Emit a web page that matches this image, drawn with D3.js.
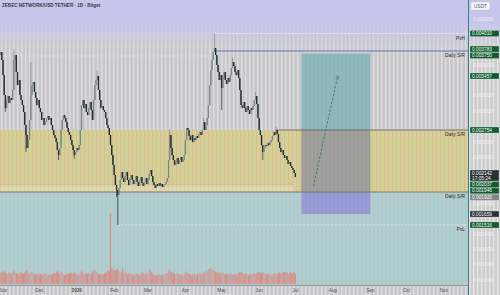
<!DOCTYPE html>
<html><head><meta charset="utf-8">
<script src="https://cdn.jsdelivr.net/npm/d3@7"></script>
<style>html,body{margin:0;padding:0;background:#c9c9ec;overflow:hidden}svg{display:block}</style>
</head><body><svg id="c" width="500" height="295"></svg>
<script>
const title = "ZEBEC NETWORK/USD TETHER · 1D · Bitget";
const firstDay = new Date(2025, 9, 29);
const closes = [
0.003731,0.003770,0.003666,0.003470,0.003210,0.003040,0.003145,0.003197,0.003105,0.003171,
0.003145,0.003275,0.003666,0.003731,0.003509,0.003340,0.003405,0.003210,0.003145,0.003079,
0.002988,0.002819,0.002689,0.002519,0.002623,0.002884,0.003210,0.003340,0.003379,0.003249,
0.003171,0.003079,0.003145,0.003040,0.002988,0.002884,0.002910,0.002819,0.002858,0.002910,
0.002936,0.002884,0.002910,0.002819,0.002754,0.002689,0.002650,0.002597,0.002493,0.002428,
0.002519,0.002754,0.002884,0.002949,0.002910,0.002858,0.002780,0.002728,0.002689,0.002623,
0.002558,0.002493,0.002428,0.002467,0.002519,0.002493,0.002558,0.002754,0.003079,0.003145,
0.003040,0.003092,0.002988,0.002949,0.003040,0.003118,0.003014,0.002884,0.003145,0.003340,
0.003405,0.003457,0.003275,0.003145,0.003040,0.003066,0.003014,0.002988,0.002910,0.002819,
0.002780,0.002689,0.002558,0.002428,0.002298,0.002167,0.002037,0.001972,0.001907,0.001998,
0.002102,0.002206,0.002128,0.002076,0.002154,0.002206,0.002102,0.002037,0.002128,0.002167,
0.002102,0.002050,0.002102,0.002154,0.002076,0.002024,0.002102,0.002141,0.002063,0.002024,
0.002076,0.002128,0.002050,0.002102,0.002180,0.002233,0.002154,0.002076,0.002037,0.001998,
0.002050,0.002024,0.002063,0.002024,0.002050,0.002011,0.002037,0.002050,0.002076,0.002128,
0.002363,0.002689,0.002519,0.002428,0.002363,0.002298,0.002337,0.002389,0.002311,0.002363,
0.002402,0.002337,0.002363,0.002428,0.002623,0.002780,0.002754,0.002676,0.002623,0.002689,
0.002597,0.002650,0.002623,0.002676,0.002650,0.002702,0.002728,0.002689,0.002754,0.002858,
0.002754,0.002819,0.002910,0.003079,0.003340,0.003535,0.003666,0.003770,0.003822,0.003731,
0.003601,0.003509,0.003405,0.003470,0.003301,0.003431,0.003509,0.003405,0.003353,0.003431,
0.003379,0.003470,0.003562,0.003640,0.003588,0.003509,0.003470,0.003535,0.003431,0.003275,
0.003079,0.003040,0.003118,0.003040,0.002988,0.003066,0.003014,0.002962,0.003040,0.003014,
0.003066,0.003145,0.003197,0.003092,0.002910,0.002754,0.002689,0.002558,0.002467,0.002519,
0.002558,0.002545,0.002584,0.002558,0.002597,0.002623,0.002676,0.002728,0.002689,0.002754,
0.002702,0.002597,0.002519,0.002467,0.002493,0.002428,0.002389,0.002415,0.002363,0.002311,
0.002337,0.002285,0.002259,0.002233,0.002193,0.002142];
const firstOpen = 0.003700;
const highWicks = [[0,0.003800],[12,0.003800],[26,0.003640],[81,0.003530],[141,0.002760],[169,0.002910],[178,0.004010],[193,0.003700],[212,0.003250],[229,0.002800]];
const lowWicks = [[5,0.002990],[22,0.002470],[49,0.002363],[62,0.002380],[97,0.001880],[98,0.001516],[184,0.003014],[218,0.002363]];
const volumes = [
14,16,15,18,17,15,14,13,16,15, 14,17,19,16,15,14,13,15,16,14,
15,16,18,20,15,14,17,16,13,12, 14,13,15,12,14,13,12,15,14,13,
12,13,14,12,13,15,14,16,18,15, 14,17,16,13,12,14,13,15,14,16,
15,14,16,15,13,14,12,16,19,17, 14,13,15,14,16,15,14,18,17,20,
18,15,14,13,14,12,13,15,16,17, 18,19,97,22,20,19,18,20,21,18,
18,16,22,15,14,16,13,14,15,13, 14,12,13,15,14,13,12,14,16,15,
14,13,15,12,18,20,16,14,13,12, 13,12,14,13,12,13,12,14,13,15,
18,21,17,16,15,14,13,15,14,13, 14,13,12,14,16,18,15,14,13,12,
13,14,12,13,14,13,15,14,13,17, 15,16,18,20,21,22,20,19,18,17,
16,15,17,14,15,16,14,13,15,14, 13,14,15,13,12,14,13,12,15,16,
17,15,14,13,15,14,13,12,14,13, 14,15,13,14,16,17,15,14,16,15,
14,13,15,14,13,12,14,13,15,14, 13,15,16,14,15,16,17,15,16,14,
15,16,14,15,17,14];
const priceTicks = [0.0042,0.0040,0.0038,0.0036,0.0034,0.0032,0.0030,0.0028,0.0026,0.0024,0.0022,0.0020,0.0018,0.0016,0.0014,0.0012,0.0010,0.0008];
const monthTicks = [new Date(2025,10,1),new Date(2025,11,1),new Date(2026,0,1),new Date(2026,1,1),new Date(2026,2,1),new Date(2026,3,1),new Date(2026,4,1),new Date(2026,5,1),new Date(2026,6,1),new Date(2026,7,1),new Date(2026,8,1),new Date(2026,9,1),new Date(2026,10,1)];
const monthLabels = ["Nov","Dec","2026","Feb","Mar","Apr","May","Jun","Jul","Aug","Sep","Oct","Nov"];
const pvhLevel = 0.004010, pvhFrom = new Date(2026,3,25);
const resistLevel = 0.003783, resistFrom = new Date(2026,3,25);
const midLevel = 0.002754, midFrom = new Date(2026,5,15);
const supportLevel = 0.001946;
const pvlLevel = 0.001516, pvlFrom = new Date(2026,1,4);
const oldHighLevel = 0.003718, oldHighTo = new Date(2026,3,25);
const bandTop = 0.002037, bandBottom = 0.001946, bandTo = new Date(2026,5,30);
const posFrom = new Date(2026,6,6), posTo = new Date(2026,8,1);
const posTarget = 0.003750, posEntry = 0.001946, posStop = 0.001659;
const arrowFrom = [new Date(2026,6,16), 0.002024], arrowTo = [new Date(2026,7,5), 0.003457];
const entryMark = 0.001920;
const countdown = "17:05:24";

const svg = d3.select("#c");
const W = 500, H = 295, axisX = 468, timeY = 285;
const x = d3.scaleTime().domain([new Date(2025,10,1), new Date(2026,10,1)]).range([3, 444]);
const y = d3.scaleLinear().domain([0.0008, 0.0042]).range([280, 19]);
const yv = d3.scaleLinear().domain([0, 100]).range([284, 211]);
const fmt = d3.format(".6f");
const FONT = "Liberation Sans, Arial, sans-serif";

const defs = svg.append("defs");
function stripes(id, base, list) {
  const p = defs.append("pattern").attr("id", id).attr("patternUnits","userSpaceOnUse").attr("width",4).attr("height",10);
  p.append("rect").attr("width",4).attr("height",10).attr("fill",base);
  list.forEach(s => p.append("rect").attr("x",s[0]).attr("width",s[1]).attr("height",10).attr("fill",s[2]));
}
stripes("pGray", "#c8c8cb", [[1,1.5,"#dcdcdf"]]);
stripes("pYel", "#d7d08e", [[0,0.8,"#e4b09c"],[2,1,"#c2d89c"]]);
stripes("pCyan", "#c4c7c8", [[1,1.8,"#99d2d6"]]);
stripes("pAxis", "#cdcdcd", [[1,1.5,"#e2e2e2"]]);
stripes("pTeal", "#9fb3b3", [[1,2,"#7dbcbc"]]);
stripes("pBoxMid", "#a3a19b", [[1,1.5,"#999a98"]]);
stripes("pPurp", "#9c9cd2", [[1,1.5,"#8e94d6"]]);
const grad = defs.append("linearGradient").attr("id","gTop").attr("x1",0).attr("y1",0).attr("x2",0).attr("y2",1);
grad.append("stop").attr("offset","0%").attr("stop-color","#c6c6ec");
grad.append("stop").attr("offset","100%").attr("stop-color","#c6c6ec").attr("stop-opacity",0);
defs.append("clipPath").attr("id","plot").append("rect").attr("width",axisX).attr("height",timeY);

// backgrounds
svg.append("rect").attr("width",W).attr("height",H).attr("fill","url(#pGray)");
svg.append("rect").attr("x",axisX).attr("width",W-axisX).attr("height",H).attr("fill","url(#pAxis)");
svg.append("rect").attr("width",W).attr("height",22).attr("fill","#c6c6ec");
svg.append("rect").attr("y",22).attr("width",W).attr("height",26).attr("fill","url(#gTop)");
const yMid = y(midLevel), ySup = y(supportLevel);
svg.append("rect").attr("x",0).attr("y",yMid).attr("width",axisX).attr("height",ySup-yMid).attr("fill","url(#pYel)");
svg.append("rect").attr("x",0).attr("y",ySup).attr("width",axisX).attr("height",timeY-ySup).attr("fill","url(#pCyan)");

const g = svg.append("g").attr("clip-path","url(#plot)");

// thin band
g.append("rect").attr("x",0).attr("y",y(bandTop)).attr("width",x(bandTo)).attr("height",y(bandBottom)-y(bandTop))
  .attr("fill","rgba(255,255,255,0.22)").attr("stroke","rgba(190,140,140,0.7)").attr("stroke-width",0.6).attr("stroke-dasharray","1.5,1");

// position box
const px0 = x(posFrom), pw = x(posTo) - x(posFrom);
g.append("rect").attr("x",px0).attr("y",y(posTarget)).attr("width",pw).attr("height",y(midLevel)-y(posTarget)).attr("fill","url(#pTeal)");
g.append("rect").attr("x",px0).attr("y",y(midLevel)).attr("width",pw).attr("height",y(posEntry)-y(midLevel)).attr("fill","url(#pBoxMid)");
g.append("rect").attr("x",px0).attr("y",y(posEntry)).attr("width",pw).attr("height",y(posStop)-y(posEntry)).attr("fill","url(#pPurp)");

// levels
function hline(v, x0, x1, color, w, dash) {
  g.append("line").attr("x1",x0).attr("x2",x1).attr("y1",y(v)).attr("y2",y(v))
   .attr("stroke",color).attr("stroke-width",w).attr("stroke-dasharray",dash||null);
}
hline(oldHighLevel, 0, x(oldHighTo), "#ececf6", 0.7, "1,1.5");
hline(pvhLevel, x(pvhFrom), axisX, "#efeff8", 0.8, "2,1.5");
hline(resistLevel, x(resistFrom), axisX, "#5a66b8", 0.9);
hline(midLevel, x(midFrom), axisX, "#585858", 0.8);
hline(supportLevel, 0, axisX, "#6b6a5c", 0.8);
hline(pvlLevel, x(pvlFrom), axisX, "#ececec", 0.8, "2,1.5");

const days = closes.map((c,i) => {
  const d = d3.timeDay.offset(firstDay, i);
  const o = i === 0 ? firstOpen : closes[i-1];
  let h = Math.max(o,c), l = Math.min(o,c);
  highWicks.forEach(w => { if (w[0]===i) h = Math.max(h, w[1]); });
  lowWicks.forEach(w => { if (w[0]===i) l = Math.min(l, w[1]); });
  return {d, o, c, h, l, v: volumes[i]};
});
// volume
g.selectAll(".vol").data(days).join("rect")
  .attr("x", d => x(d.d)-0.55).attr("width",1.1)
  .attr("y", d => yv(d.v)).attr("height", d => yv(0)-yv(d.v))
  .attr("fill", d => d.c >= d.o ? "#cf9a98" : "#d98780").attr("opacity",0.9);

// candles
g.selectAll(".wick").data(days).join("line")
  .attr("x1", d => x(d.d)).attr("x2", d => x(d.d))
  .attr("y1", d => y(d.h)).attr("y2", d => y(d.l))
  .attr("stroke", d => d.c >= d.o ? "#7d8587" : "#1f2b33").attr("stroke-width",0.7);
g.selectAll(".body").data(days).join("rect")
  .attr("x", d => x(d.d)-0.65).attr("width",1.3)
  .attr("y", d => y(Math.max(d.o,d.c)))
  .attr("height", d => Math.max(0.9, Math.abs(y(d.o)-y(d.c))))
  .attr("fill", d => d.c >= d.o ? "#7d8587" : "#1f2b33");

// arrow
const ax0 = x(arrowFrom[0]), ay0 = y(arrowFrom[1]), ax1 = x(arrowTo[0]), ay1 = y(arrowTo[1]);
g.append("line").attr("x1",ax0).attr("y1",ay0).attr("x2",ax1).attr("y2",ay1)
  .attr("stroke","#2f6e6e").attr("stroke-width",0.8).attr("stroke-dasharray","2.5,1.5");
const ang = Math.atan2(ay1-ay0, ax1-ax0);
const ah = 3;
g.append("path").attr("d", `M${ax1+Math.cos(ang+2.6)*ah},${ay1+Math.sin(ang+2.6)*ah}L${ax1},${ay1}L${ax1+Math.cos(ang-2.6)*ah},${ay1+Math.sin(ang-2.6)*ah}`)
  .attr("fill","none").attr("stroke","#2f6e6e").attr("stroke-width",0.8);

// level texts
const lvlText = [[pvhLevel,"PvH"],[resistLevel,"Daily S/R"],[midLevel,"Daily S/R"],[supportLevel,"Daily S/R"],[pvlLevel,"PvL"]];
svg.selectAll(".lt").data(lvlText).join("text")
  .attr("x",465).attr("y", d => y(d[0])+6).attr("text-anchor","end")
  .attr("font-family",FONT).attr("font-size",4.8).attr("fill","#2a2a2a").text(d => d[1]);

// axes lines
svg.append("line").attr("x1",0).attr("x2",axisX).attr("y1",timeY+0.5).attr("y2",timeY+0.5).attr("stroke","#8a8a8a").attr("stroke-width",0.8);
svg.append("line").attr("x1",axisX+0.5).attr("x2",axisX+0.5).attr("y1",0).attr("y2",H).attr("stroke","#3f7a7a").attr("stroke-width",1);

// time labels
svg.selectAll(".ml").data(monthTicks).join("text")
  .attr("x", d => x(d)).attr("y", 291.5).attr("text-anchor","middle")
  .attr("font-family",FONT).attr("font-size",4.6)
  .attr("font-weight",(d,i) => monthLabels[i]==="2026" ? "bold" : "normal")
  .attr("fill","#505050").text((d,i) => monthLabels[i]);

// right axis label boxes
const boxes = [
  {v:pvhLevel, t:[fmt(pvhLevel)], c:"#0f5c2e", h:6},
  {v:resistLevel, t:[fmt(resistLevel)], c:"#0f5c2e", h:6},
  {v:posTarget, t:[fmt(posTarget)], c:"#0f5c2e", h:6},
  {v:arrowTo[1], t:[fmt(arrowTo[1])], c:"#0f5c2e", h:6},
  {v:midLevel, t:[fmt(midLevel)], c:"#0f5c2e", h:6},
  {v:closes[closes.length-1], t:[fmt(closes[closes.length-1]), countdown], c:"#263236", h:11},
  {v:bandTop, t:[fmt(bandTop)], c:"#0f5c2e", h:6},
  {v:supportLevel, t:[fmt(supportLevel)], c:"#0f5c2e", h:6},
  {v:entryMark, t:[fmt(entryMark)], c:"#7d8486", h:6},
  {v:posStop, t:[fmt(posStop)], c:"#263236", h:6},
  {v:pvlLevel, t:[fmt(pvlLevel)], c:"#0f5c2e", h:6}
];
boxes.forEach(b => b.y = y(b.v));
boxes.sort((a,b) => a.y - b.y);
for (let k=0; k<80; k++) {
  for (let i=1; i<boxes.length; i++) {
    const a = boxes[i-1], b = boxes[i];
    const ov = (a.y + a.h/2 + 0.4) - (b.y - b.h/2);
    if (ov > 0) { a.y -= ov/2; b.y += ov/2; }
  }
}
const ticksShown = priceTicks.filter(t => !boxes.some(b => Math.abs(b.y - y(t)) < b.h/2 + 2.5));
svg.selectAll(".pt").data(ticksShown).join("text")
  .attr("x",473).attr("y", d => y(d)+1.7)
  .attr("font-family",FONT).attr("font-size",4.8)
  .attr("fill","#f2f2f2").text(d => fmt(d));

const bg = svg.selectAll(".bx").data(boxes).join("g");
bg.append("rect").attr("x",470).attr("width",29).attr("y", d => d.y - d.h/2).attr("height", d => d.h)
  .attr("rx",0.6).attr("fill", d => d.c).attr("stroke","#dfe8e2").attr("stroke-width",0.3);
bg.each(function(d) {
  const s = d3.select(this);
  d.t.forEach((t,j) => {
    s.append("text").attr("x",472).attr("y", d.y - d.h/2 + 4.6 + j*5)
      .attr("font-family",FONT).attr("font-size",4.8)
      .attr("fill","#ffffff").text(t);
  });
});

// USDT box
svg.append("rect").attr("x",471).attr("y",2).attr("width",19).attr("height",8).attr("rx",1).attr("fill","#f6f6fb").attr("stroke","#b8b8d0").attr("stroke-width",0.4);
svg.append("text").attr("x",480.5).attr("y",7.8).attr("text-anchor","middle")
  .attr("font-family",FONT).attr("font-size",4.8).attr("fill","#555").text("USDT");

// title
svg.append("text").attr("x",2).attr("y",7).attr("font-family",FONT)
  .attr("font-size",4.6).attr("font-weight","bold").attr("fill","#3a3a3a").text(title);
</script></body></html>
